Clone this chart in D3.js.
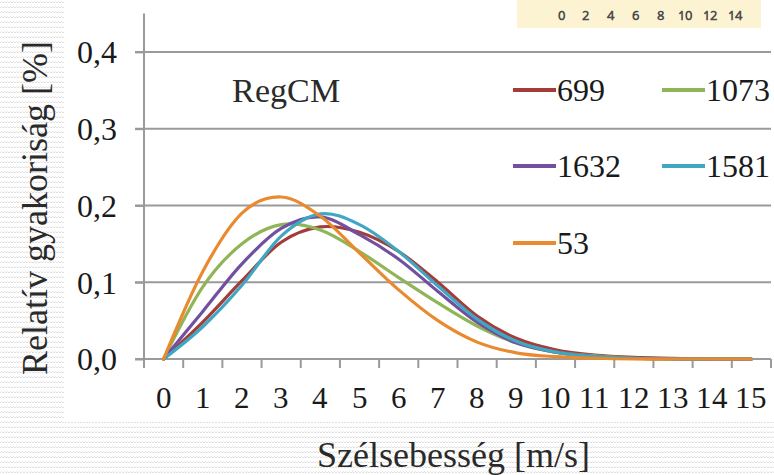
<!DOCTYPE html>
<html>
<head>
<meta charset="utf-8">
<script src="https://cdn.jsdelivr.net/npm/d3@7/dist/d3.min.js"></script>
<style>
  @font-face { font-family: "ChartSerif"; src: local("Liberation Serif"), local("LiberationSerif"), local("Times New Roman"); }
  @font-face { font-family: "ChartSans"; src: local("Open Sans"), local("OpenSans-Regular"); }
  body { margin: 0; }
  svg text { font-family: "ChartSerif", "Liberation Serif", "Times New Roman"; }
  svg text.inset { font-family: "ChartSans", "Open Sans"; }
</style>
</head>
<body>
<svg id="chart" width="774" height="475"></svg>
<script>
// Wind speed classes (m/s)
const categories = [0, 1, 2, 3, 4, 5, 6, 7, 8, 9, 10, 11, 12, 13, 14, 15];

// Relative frequency per station
const s699  = [0, 0.048, 0.102, 0.152, 0.172, 0.165, 0.140, 0.100, 0.056, 0.027, 0.012, 0.005, 0.002, 0.001, 0.000, 0.000];
const s1073 = [0, 0.094, 0.150, 0.175, 0.168, 0.140, 0.106, 0.073, 0.043, 0.021, 0.009, 0.004, 0.001, 0.000, 0.000, 0.000];
const s1632 = [0, 0.062, 0.124, 0.170, 0.185, 0.162, 0.130, 0.088, 0.048, 0.021, 0.009, 0.003, 0.001, 0.000, 0.000, 0.000];
const s1581 = [0, 0.042, 0.096, 0.160, 0.189, 0.175, 0.140, 0.095, 0.052, 0.023, 0.009, 0.003, 0.001, 0.000, 0.000, 0.000];
const s53   = [0, 0.114, 0.190, 0.211, 0.186, 0.138, 0.090, 0.050, 0.022, 0.008, 0.003, 0.001, 0.000, 0.000, 0.000, 0.000];

const seriesNames  = ["699", "1073", "1632", "1581", "53"];
const seriesValues = [s699, s1073, s1632, s1581, s53];
const seriesColors = ["#a33d3a", "#8fb556", "#72509f", "#3fa7c4", "#e98a2f"];

const yTicks = [0, 0.1, 0.2, 0.3, 0.4];
const insetTicks = ["0", "2", "4", "6", "8", "10", "12", "14"];

const svg = d3.select("#chart").attr("font-family", "Liberation Serif");

function label(sel, size) {
  return sel.attr("font-size", size).attr("font-family", "Liberation Serif");
}

// textured page background
const defs = svg.append("defs");
const pat = defs.append("pattern")
  .attr("id", "wave").attr("patternUnits", "userSpaceOnUse")
  .attr("width", 6).attr("height", 5);
pat.append("rect").attr("width", 6).attr("height", 5).attr("fill", "#ffffff");
pat.append("path")
  .attr("d", "M0,3 L1.5,1.5 L3,3 L4.5,1.5 L6,3")
  .attr("fill", "none").attr("stroke", "#dcdcdc").attr("stroke-width", 0.9);
svg.append("rect").attr("width", 774).attr("height", 475).attr("fill", "url(#wave)");

// white chart panel
svg.append("rect").attr("x", 64).attr("y", 0).attr("width", 710).attr("height", 422).attr("fill", "#fff");

// scales
const x = d3.scaleBand().domain(categories).range([144, 771]).padding(0);
const y = d3.scaleLinear().domain([0, 0.45]).range([359, 13.5]);
const xc = d => x(d) + x.bandwidth() / 2;

const grid = "#9a9a9a";

// horizontal gridlines (with outside tick stubs)
svg.append("g").selectAll("line").data(yTicks.slice(1)).join("line")
  .attr("x1", 135).attr("x2", 771)
  .attr("y1", d => y(d)).attr("y2", d => y(d))
  .attr("stroke", grid).attr("stroke-width", 2);

// y axis
const yAxis = d3.axisLeft(y).tickValues(yTicks).tickSize(9).tickPadding(18)
  .tickFormat(d => d3.format(".1f")(d).replace(".", ","));
const gy = svg.append("g").attr("transform", "translate(144,0)").call(yAxis);
gy.attr("font-family", "Liberation Serif").attr("font-size", 32);
gy.select(".domain").attr("d", `M0,${y(0.45)}V${y(0)}`).attr("stroke", grid).attr("stroke-width", 2);
gy.selectAll(".tick line").attr("stroke", grid).attr("stroke-width", 2);
label(gy.selectAll(".tick text"), 32)
  .attr("fill", "#1a1a1a")
  .attr("dy", "0.34em");

// x axis: tick marks at category boundaries, labels centered
const xAxisG = svg.append("g").attr("transform", `translate(0,${y(0)})`);
xAxisG.append("line").attr("x1", 135).attr("x2", 771).attr("y1", 0).attr("y2", 0)
  .attr("stroke", grid).attr("stroke-width", 2);
const bounds = categories.map(d => x(d)).concat([x(categories[categories.length - 1]) + x.bandwidth()]);
xAxisG.selectAll("line.tk").data(bounds).join("line").attr("class", "tk")
  .attr("x1", d => d).attr("x2", d => d).attr("y1", 0).attr("y2", 9)
  .attr("stroke", grid).attr("stroke-width", 2);
label(xAxisG.selectAll("text").data(categories).join("text"), 31)
  .attr("x", d => xc(d)).attr("y", 49)
  .attr("text-anchor", "middle")
  .attr("fill", "#1a1a1a")
  .text(d => d);

// curves
const line = d3.line()
  .x((d, i) => xc(categories[i]))
  .y(d => y(d))
  .curve(d3.curveCatmullRom.alpha(0));
svg.append("g").selectAll("path").data(seriesValues).join("path")
  .attr("d", d => line(d))
  .attr("fill", "none")
  .attr("stroke", (d, i) => seriesColors[i])
  .attr("stroke-width", 3.2)
  .attr("stroke-linejoin", "round").attr("stroke-linecap", "round");

// model label
label(svg.append("text"), 34).attr("x", 232).attr("y", 102)
  .attr("fill", "#2a2a2a")
  .text("RegCM");

// legend
const legendPos = [
  { lx: 513, ly: 90 }, { lx: 662, ly: 90 },
  { lx: 513, ly: 166 }, { lx: 662, ly: 166 },
  { lx: 513, ly: 243 }
];
const lg = svg.append("g").selectAll("g").data(seriesNames).join("g")
  .attr("transform", (d, i) => `translate(${legendPos[i].lx},${legendPos[i].ly})`);
lg.append("line").attr("x1", 0).attr("x2", 43).attr("y1", 0).attr("y2", 0)
  .attr("stroke", (d, i) => seriesColors[i]).attr("stroke-width", 4);
label(lg.append("text"), 32).attr("x", 44).attr("y", 11)
  .attr("fill", "#1a1a1a")
  .text(d => d);

// axis titles
label(svg.append("text"), 36).attr("x", 453).attr("y", 467)
  .attr("text-anchor", "middle")
  .attr("fill", "#2a2a2a")
  .text("Szélsebesség [m/s]");
label(svg.append("text"), 36)
  .attr("transform", "translate(47,208) rotate(-90)")
  .attr("text-anchor", "middle")
  .attr("fill", "#2a2a2a")
  .text("Relatív gyakoriság [%]");

// small inset strip at the top right
svg.append("rect").attr("x", 517).attr("y", 0).attr("width", 244).attr("height", 28)
  .attr("fill", "#fcf3d3");
const insetX = d3.scalePoint().domain(insetTicks).range([561, 735]);
svg.append("g").selectAll("text").data(insetTicks).join("text")
  .attr("class", "inset")
  .attr("font-size", 13).attr("font-family", "Open Sans")
  .attr("x", d => insetX(d)).attr("y", 20)
  .attr("text-anchor", "middle")
  .attr("font-weight", 600)
  .attr("fill", "#4a4a4a")
  .text(d => d);
</script>
</body>
</html>
